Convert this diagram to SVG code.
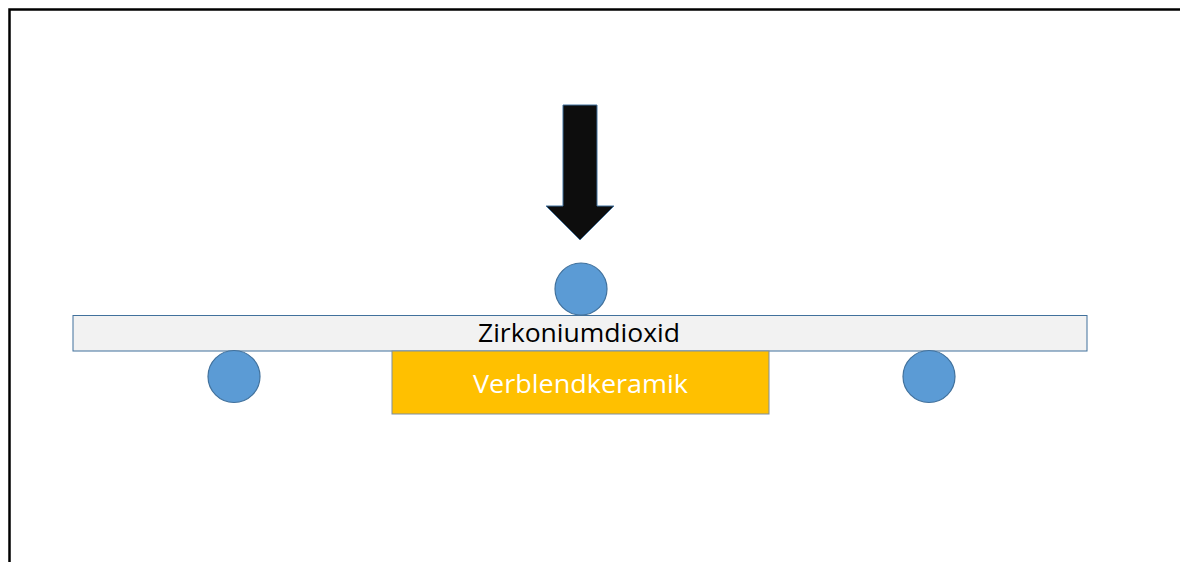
<svg xmlns="http://www.w3.org/2000/svg" width="1180" height="562" viewBox="0 0 1180 562">
  <style>
    .frame { fill: none; stroke: #000; stroke-width: 2.5; }
    .roller { fill: #5b9bd5; stroke: #41719c; stroke-width: 1.2; }
    .label { font-family: "Open Sans", "Liberation Sans", sans-serif; font-size: 26px; text-anchor: middle; }
  </style>
  <rect width="1180" height="562" fill="#fff"/>
  <!-- outer frame (top and left edges) -->
  <path class="frame" d="M9.5,562 V9.5 H1180"/>

  <!-- load arrow -->
  <g id="load">
    <path d="M563,105 H597 V206 H614 L580,240 L546,206 H563 Z" fill="#0d0d0d" stroke="#41719c" stroke-width="1"/>
  </g>

  <!-- loading roller on top -->
  <g id="roller-top">
    <circle class="roller" cx="581" cy="289" r="26"/>
  </g>

  <!-- specimen bar -->
  <g id="zirconia">
    <rect x="73" y="315.5" width="1014" height="35.5" fill="#f2f2f2" stroke="#41719c" stroke-width="1"/>
    <text class="label" x="579" y="342" fill="#000" textLength="202" lengthAdjust="spacingAndGlyphs">Zirkoniumdioxid</text>
  </g>

  <!-- support rollers -->
  <g id="roller-left">
    <circle class="roller" cx="234" cy="376.5" r="26"/>
  </g>
  <g id="roller-right">
    <circle class="roller" cx="929" cy="376.5" r="26"/>
  </g>

  <!-- veneer layer -->
  <g id="veneer">
    <rect x="392" y="351" width="377" height="63" fill="#ffc000" stroke="#7f8f9f" stroke-width="1"/>
    <text class="label" x="580.5" y="393" fill="#fff" textLength="215" lengthAdjust="spacingAndGlyphs">Verblendkeramik</text>
  </g>
</svg>
